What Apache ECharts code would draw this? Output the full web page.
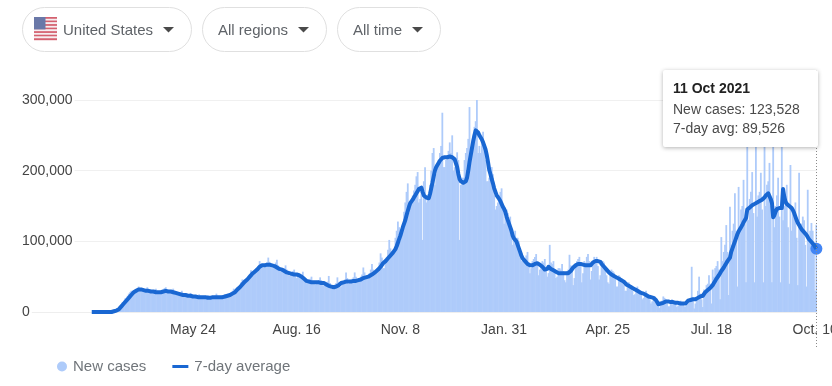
<!DOCTYPE html>
<html><head><meta charset="utf-8">
<style>html,body{margin:0;padding:0;background:#fff;overflow:hidden}#c{width:832px;height:386px}</style>
<script src="https://cdn.jsdelivr.net/npm/echarts@6/dist/echarts.min.js"></script>
</head><body><div id="c"></div>
<script>
// Daily values in thousands, one row per week (Tue..Mon), starting 3 Mar 2020
const newCasesK = [
0,0,0,0,0,0,1,
0,0,0,1,1,1,1,
1,1,1,2,2,3,3,
4,6,8,10,14,16,19,
20,23,26,28,30,30,29,
30,31,33,36,34,30,30,
31,30,33,35,31,29,28,
28,30,31,33,30,28,27,
27,29,30,34,35,29,27,
28,28,30,33,27,26,25,
25,26,28,30,26,23,23,
23,23,25,27,24,22,21,
21,23,24,25,23,20,20,
21,22,23,24,21,19,20,
20,22,23,26,23,20,21,
23,24,23,25,24,22,23,
26,28,30,33,32,28,30,
36,38,42,46,44,42,44,
48,50,53,59,57,52,54,
58,62,65,72,68,64,63,
65,67,70,77,71,65,62,
63,66,70,74,66,60,57,
59,60,62,66,60,53,51,
53,56,58,60,55,48,50,
49,50,52,57,50,44,45,
44,46,47,50,44,40,39,
41,44,45,49,45,38,37,
38,42,43,51,41,33,33,
32,39,41,49,42,35,36,
40,44,46,56,48,40,41,
44,47,49,56,50,42,43,
47,50,53,63,56,46,49,
50,55,60,68,60,52,55,
60,63,70,83,77,62,62,
72,78,88,102,90,78,84,
90,105,115,128,120,100,112,
125,142,155,170,182,140,150,
155,165,172,180,192,198,155,
160,170,102,185,205,155,160,
165,180,200,225,232,180,195,
205,215,225,235,282,205,205,
215,222,228,240,225,250,200,
205,210,226,215,102,180,190,
190,215,225,232,245,290,210,
230,250,262,270,300,225,235,
225,245,255,235,215,185,185,
190,200,205,195,165,145,150,
155,165,170,175,150,125,135,
145,140,130,135,110,95,105,
115,105,105,100,85,72,75,
75,75,80,85,70,55,62,
72,75,78,82,68,52,60,
68,72,70,75,62,50,55,
95,70,68,72,60,48,50,
62,62,60,68,58,45,42,
58,60,81,66,60,38,48,
68,72,75,78,70,42,55,
72,70,78,82,72,46,58,
72,78,74,78,65,46,52,
68,72,70,64,52,42,40,
58,60,58,56,48,36,36,
52,50,48,45,38,30,30,
42,42,38,38,30,24,25,
34,36,32,30,24,18,20,
26,30,26,24,18,12,15,
20,22,18,14,8,6,9,
16,22,20,18,12,8,8,
15,18,16,15,12,7,9,
12,16,14,14,8,8,10,
12,15,18,64,20,5,12,
20,30,50,26,18,7,32,
30,38,40,52,40,12,60,
50,62,65,72,60,18,106,
72,85,95,123,85,24,149,
95,115,125,168,115,36,177,
120,145,150,187,130,42,270,
130,160,170,198,140,42,265,
135,165,170,197,145,42,290,
150,180,185,211,150,42,258,
120,150,165,190,135,42,255,
130,150,165,180,120,40,208,
115,140,140,155,105,38,197,
115,125,135,130,95,36,173,
105,115,126,115,85,30,123.528
];
const sevenDayAvgK = [
0,0,0,0,0,0,0,
0,0,0,0,0,0,0,
0,0,0,0,1,1,2,
3,4,6,8,10,12,14,
16,18,20,22,24,26,28,
29,30,31,32,32,32,32,
31,31,30,30,30,29,29,
29,29,28,28,28,28,28,
28,28,29,29,30,30,29,
29,29,28,28,27,27,27,
26,26,25,25,24,24,24,
23,23,23,23,23,22,22,
22,22,21,21,21,21,21,
21,21,20,20,20,20,20,
21,21,21,21,21,21,21,
21,21,22,22,22,23,23,
24,25,26,27,28,30,32,
33,35,37,39,41,43,45,
46,48,50,52,54,55,57,
58,60,62,64,65,66,66,
66,67,67,67,67,66,66,
66,65,64,63,62,61,60,
60,59,58,57,56,55,55,
55,54,54,53,53,53,52,
52,51,50,49,47,45,44,
44,43,42,42,42,42,42,
42,42,42,41,41,41,41,
40,39,38,37,36,36,35,
35,35,36,37,38,40,41,
41,42,43,43,43,43,43,
43,43,44,44,44,44,45,
45,46,47,48,48,49,50,
50,51,52,53,54,55,57,
58,60,62,64,66,69,71,
72,74,76,78,80,82,84,
85,89,93,98,103,108,114,
120,125,130,137,143,149,154,
156,159,162,165,168,171,174,
175,176,170,165,163,162,161,
161,167,175,183,192,200,205,
208,211,214,216,218,219,219,
219,219,220,220,220,219,218,
216,214,205,195,188,185,183,
183,184,185,190,200,212,222,
232,242,250,257,257,254,250,
248,244,240,235,230,222,212,
201,195,188,182,175,170,165,
163,160,157,153,149,146,142,
135,130,125,120,115,108,104,
105,100,95,90,85,80,76,
75,72,70,68,67,66,66,
66,67,68,69,69,68,67,
66,64,62,60,59,61,64,
62,61,60,59,58,57,56,
55,55,55,55,55,55,55,
55,55,56,58,60,63,65,
66,67,68,68,68,67,67,
67,66,66,66,66,66,68,
70,71,72,72,72,72,71,
68,66,64,62,60,58,56,
54,53,52,51,50,49,48,
47,46,45,44,43,41,39,
38,37,36,35,34,33,32,
31,30,29,28,27,26,26,
25,24,23,22,22,21,21,
20,19,17,14,11,11,12,
12,13,14,15,15,15,14,
14,14,14,13,13,13,13,
12,12,12,12,12,12,13,
16,17,17,17,18,18,18,
20,20,21,22,22,23,24,
28,30,31,33,34,35,38,
41,44,47,49,52,55,58,
60,63,66,69,72,74,77,
85,90,95,100,105,110,114,
117,120,123,127,130,133,145,
146,148,150,151,152,153,155,
155,156,157,158,159,160,162,
165,167,168,166,160,154,134,
137,142,146,147,147,147,147,
174,163,156,153,151,150,149,
147,144,140,135,130,126,123,
120,117,115,113,111,109,107,
103,101,99,97,95,92,89.526
];
const leadingDays = 56;
const firstDay = Date.UTC(2020, 2, 3);
const tickDates = ['2020-05-24','2020-08-16','2020-11-08','2021-01-31','2021-04-25','2021-07-18','2021-10-10'];
const tickLabels = ['May 24','Aug. 16','Nov. 8','Jan. 31','Apr. 25','Jul. 18','Oct. 10'];
const yTicks = [0,100000,200000,300000];
const seriesNames = ['New cases','7-day average'];
const dropdowns = ['United States','All regions','All time'];
const tipDate = '11 Oct 2021';

const dayMs = 86400000;
const iso = t => new Date(t).toISOString().slice(0,10);
const categories = [];
for (let i = -leadingDays; i < newCasesK.length; i++) categories.push(iso(firstDay + i*dayMs));
const pad = new Array(leadingDays).fill(null);
const newCases = pad.concat(newCasesK.map(v => Math.round(v*1000)));
const sevenDayAvg = pad.concat(sevenDayAvgK.map(v => Math.round(v*1000)));
const lastCat = categories[categories.length-1];
const fmt = v => v.toLocaleString('en-US');
const F = '"Liberation Sans",Arial,sans-serif';
const isTick = (i, v) => tickDates.includes(v);

const g = [];
// dropdown pills
const pills = [[22,169,63],[202,124,218],[337,103,353]];
const caret = [163,298,412];
pills.forEach((p,i)=>{
  g.push({type:'rect',shape:{x:p[0]+.5,y:7.5,width:p[1],height:44,r:22},style:{fill:'#fff',stroke:'#e0e0e0',lineWidth:1}});
  g.push({type:'text',x:p[2],y:31,style:{text:dropdowns[i],font:'15px '+F,fill:'#5f6368',verticalAlign:'middle'}});
  g.push({type:'polygon',shape:{points:[[caret[i],27],[caret[i]+11,27],[caret[i]+5.5,32.5]]},style:{fill:'#4a4a4a'}});
});
// flag
for (let s=0;s<13;s++){
  g.push({type:'rect',shape:{x:34,y:17+s*23/13,width:23,height:23/13+.2},style:{fill:s%2?'#f6eef0':'#d4616f'}});
}
g.push({type:'rect',shape:{x:34,y:17,width:11.5,height:12.4},style:{fill:'#6a78a8'}});
// tooltip
g.push({type:'rect',z:50,shape:{x:663,y:70,width:155,height:77,r:2},style:{fill:'#fff',shadowBlur:4,shadowColor:'rgba(0,0,0,.3)',shadowOffsetY:1}});
g.push({type:'text',z:51,x:673,y:89,style:{text:tipDate,font:'bold 14px '+F,fill:'#222',verticalAlign:'middle'}});
g.push({type:'text',z:51,x:673,y:110,style:{text:seriesNames[0]+': '+fmt(newCases[newCases.length-1]),font:'14px '+F,fill:'#4a4a4a',verticalAlign:'middle'}});
g.push({type:'text',z:51,x:673,y:129,style:{text:'7-day avg: '+fmt(sevenDayAvg[sevenDayAvg.length-1]),font:'14px '+F,fill:'#4a4a4a',verticalAlign:'middle'}});

const chart = echarts.init(document.getElementById('c'),null,{renderer:'canvas'});
const option = {
  animation:false,
  backgroundColor:'#fff',
  grid:{left:22,top:100,width:795,height:212,containLabel:false,outerBoundsMode:'none'},
  legend:{left:52,top:354,itemWidth:16,itemHeight:10,itemGap:26,
    textStyle:{fontFamily:F,fontSize:15,color:'#70757a',padding:[0,0,0,-2]},
    data:[{name:seriesNames[0],icon:'circle'},
      {name:seriesNames[1],icon:'path://M0,0 L16,0 L16,3 L0,3 Z',textStyle:{fontFamily:F,fontSize:15,color:'#70757a',padding:[0,0,0,1]}}]},
  xAxis:{type:'category',data:categories,boundaryGap:true,
    axisLine:{lineStyle:{color:'#eeeeee'}},
    axisTick:{alignWithLabel:true,length:10,interval:isTick,lineStyle:{color:'#e4e4e4'}},
    axisLabel:{interval:isTick,margin:11,fontFamily:F,fontSize:14,color:'#444',hideOverlap:false,
      formatter:v=>tickLabels[tickDates.indexOf(v)]}},
  yAxis:{type:'value',min:yTicks[0],max:yTicks[3],interval:yTicks[1],
    axisLine:{show:false},axisTick:{show:false},
    splitLine:{lineStyle:{color:'#f0f0f0'}},
    axisLabel:{inside:true,margin:0,fontFamily:F,fontSize:14,color:'#444',align:'left',verticalAlign:'middle',
      backgroundColor:'#fff',padding:[0,2,0,0],formatter:v=>fmt(v)}},
  series:[
    {name:seriesNames[0],type:'bar',data:newCases,barWidth:1.8,large:false,
      itemStyle:{color:'#aecbfa'}},
    {name:seriesNames[1],type:'line',data:sevenDayAvg,symbol:'none',connectNulls:false,z:5,
      lineStyle:{color:'#1967d2',width:4,join:'round'},itemStyle:{color:'#1967d2'},
      markPoint:{silent:true,symbol:'circle',symbolSize:12,label:{show:false},itemStyle:{color:'#4285f4'},
        data:[{coord:[lastCat,sevenDayAvg[sevenDayAvg.length-1]]}]}}
  ],
  graphic:{elements:g}
};
chart.setOption(option);
const cx = Math.round(chart.convertToPixel({xAxisIndex:0},lastCat))+.5;
g.push({type:'line',z:49,shape:{x1:cx,y1:70,x2:cx,y2:348},style:{stroke:'#8a8a8a',lineWidth:1,lineDash:[1,2]}});
chart.setOption({graphic:{elements:g}});
</script></body></html>
